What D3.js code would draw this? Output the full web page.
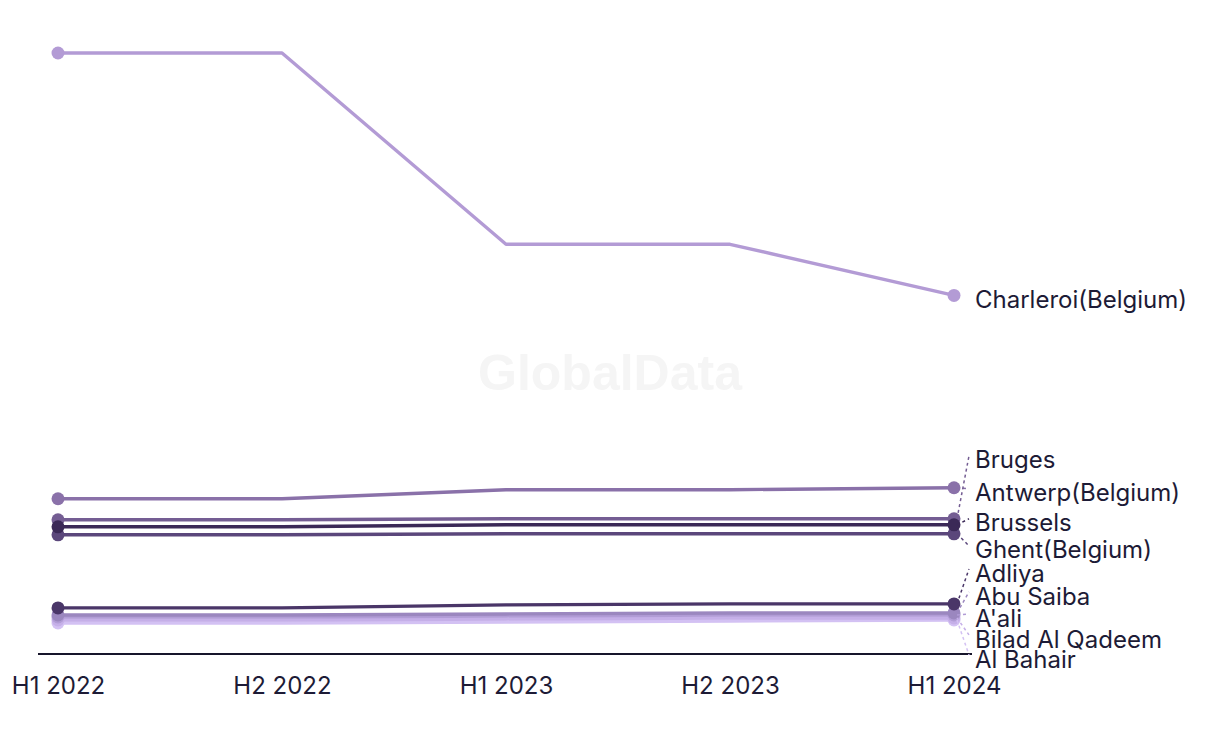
<!DOCTYPE html>
<html>
<head>
<meta charset="utf-8">
<script src="https://cdn.jsdelivr.net/npm/d3@7"></script>
<style>
  html, body { margin: 0; padding: 0; background: #ffffff; }
  svg { display: block; }
</style>
</head>
<body>
<svg id="chart" width="1220" height="744"></svg>
<script>
// ---- data ----
const periods = ["H1 2022", "H2 2022", "H1 2023", "H2 2023", "H1 2024"];
const seriesNames = ["Al Bahair", "Bilad Al Qadeem", "A'ali", "Abu Saiba", "Adliya",
                     "Antwerp(Belgium)", "Bruges", "Ghent(Belgium)", "Brussels", "Charleroi(Belgium)"];
const alBahair     = [31, 31, 32, 33, 34];
const biladAlQadeem= [34, 34, 35, 36, 36];
const aali         = [37, 37, 38, 39, 39];
const abuSaiba     = [39, 39, 40, 41, 41];
const adliya       = [46, 46, 49, 50, 50];
const antwerp      = [155, 155, 164, 164, 166];
const bruges       = [134, 134, 135, 135, 135];
const ghent        = [119, 119, 120, 120, 120];
const brussels     = [127, 127, 129, 129, 129];
const charleroi    = [600, 600, 409, 409, 358];
const seriesValues = [alBahair, biladAlQadeem, aali, abuSaiba, adliya, antwerp, bruges, ghent, brussels, charleroi];

// ---- styles / layout ----
const colors = ["#d3c1f3", "#c5afe8", "#b19cd6", "#9b87bf", "#4a3668",
                "#8a71a9", "#745d93", "#5b477b", "#3b2957", "#b39bd5"];
const labelNudge = [35, 17, -1, -21, -35, 1, -63, 12, -6, 0];

const svg = d3.select("#chart");
const textColor = "#1d1b36";
const fontFam = "Inter, 'Noto Sans', sans-serif";
const fontSize = 24;

const x = d3.scalePoint().domain(periods).range([58, 954]).padding(0);
const y = d3.scaleLinear().domain([0, 600]).range([654, 53]);

// watermark
svg.append("text")
  .attr("x", 610).attr("y", 390)
  .attr("text-anchor", "middle")
  .attr("font-family", "'Liberation Sans', Arial, sans-serif")
  .attr("font-weight", "bold")
  .attr("font-size", 50)
  .attr("fill", "#f5f5f5")
  .text("GlobalData");

// x axis
const axisG = svg.append("g").attr("transform", `translate(0,${y(0)})`);
axisG.call(d3.axisBottom(x).tickSize(0).tickPadding(0));
axisG.select(".domain").remove();
axisG.selectAll(".tick text")
  .attr("y", 40)
  .attr("dy", 0)
  .attr("font-family", fontFam)
  .attr("font-size", fontSize)
  .attr("fill", textColor);
axisG.append("line")
  .attr("x1", x.range()[0] - 20).attr("x2", x.range()[1] + 18)
  .attr("y1", 0).attr("y2", 0)
  .attr("stroke", "#17152b").attr("stroke-width", 2);

const series = seriesNames.map((name, i) => ({
  name, color: colors[i], nudge: labelNudge[i],
  values: seriesValues[i].map((v, j) => ({ p: periods[j], v }))
}));

const line = d3.line().x(d => x(d.p)).y(d => y(d.v));

const g = svg.append("g");
series.forEach(s => {
  const sg = g.append("g");
  sg.append("path")
    .attr("d", line(s.values))
    .attr("fill", "none")
    .attr("stroke", s.color)
    .attr("stroke-width", 3.4)
    .attr("stroke-linejoin", "round");
  const first = s.values[0], last = s.values[s.values.length - 1];
  [first, last].forEach(d => {
    sg.append("circle")
      .attr("cx", x(d.p)).attr("cy", y(d.v)).attr("r", 6.5)
      .attr("fill", s.color);
  });
});

// labels
const labelX = 975;
series.forEach(s => {
  const last = s.values[s.values.length - 1];
  const py = y(last.v);
  const cy = py + 4 + s.nudge;
  if (s.nudge !== 0) {
    svg.append("line")
      .attr("x1", x(last.p) + 3).attr("y1", py)
      .attr("x2", labelX - 6).attr("y2", cy - 4)
      .attr("stroke", s.color)
      .attr("stroke-width", 1.5)
      .attr("stroke-dasharray", "3,3");
  }
  svg.append("text")
    .attr("x", labelX).attr("y", cy)
    .attr("dy", "0.36em")
    .attr("font-family", fontFam)
    .attr("font-size", fontSize)
    .attr("fill", textColor)
    .text(s.name);
});
</script>
</body>
</html>
